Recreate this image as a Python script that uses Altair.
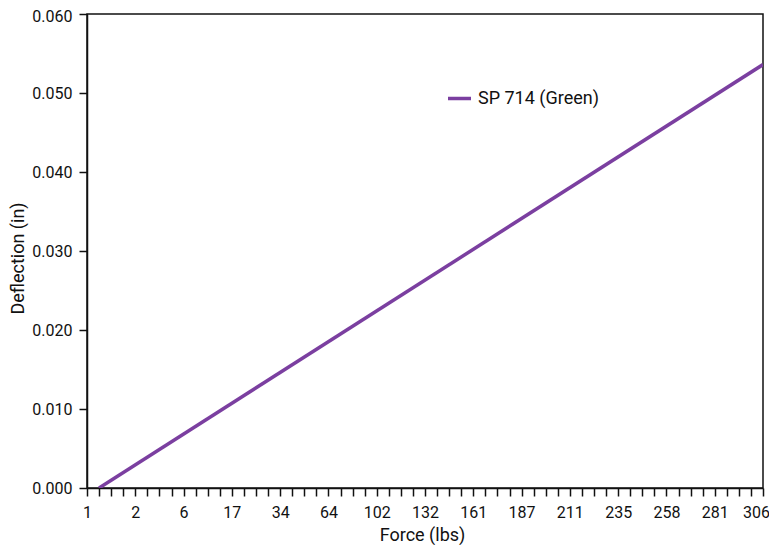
import altair as alt
import pandas as pd

# x positions are tick indices (0..56); labelled every 4th index
x_labels = ["1", "2", "6", "17", "34", "64", "102", "132", "161", "187",
            "211", "235", "258", "281", "306"]
x_index = [1, 56]
deflection = [0.0, 0.0536]
series = ["SP 714 (Green)", "SP 714 (Green)"]

df = pd.DataFrame({"idx": x_index, "defl": deflection, "series": series})

FONT = "Roboto"
label_arr = "[" + ",".join("'" + s + "'" for s in x_labels) + "]"
label_expr = "datum.value % 4 == 0 ? " + label_arr + "[datum.value / 4] : ''"

chart = alt.Chart(df).mark_line(strokeWidth=3.5, clip=True).encode(
    x=alt.X("idx:Q",
            scale=alt.Scale(domain=[0, 56], nice=False, zero=False),
            axis=alt.Axis(values=list(range(0, 57)),
                          labelExpr=label_expr,
                          labelOffset={"condition": {"test": "datum.value == 56", "value": -7},
                                       "value": 0},
                          title="Force (lbs)", grid=False, tickSize=8,
                          labelPadding=8, titlePadding=6, titleX=335,
                          labelOverlap=False, labelFlush=False)),
    y=alt.Y("defl:Q",
            scale=alt.Scale(domain=[0, 0.06], nice=False),
            axis=alt.Axis(values=[0, 0.01, 0.02, 0.03, 0.04, 0.05, 0.06],
                          format=".3f", title="Deflection (in)", grid=False,
                          labelOffset={"condition": {"test": "datum.value > 0.059", "value": 2},
                                       "value": 0},
                          tickSize=8, labelPadding=7, titlePadding=4,
                          titleY=244)),
    color=alt.Color("series:N",
                    scale=alt.Scale(range=["#7b3fa0"]),
                    legend=alt.Legend(title=None, orient="none", legendX=359,
                                      legendY=71, symbolType="stroke",
                                      symbolStrokeWidth=3.5, symbolSize=530,
                                      labelFontSize=18, labelFont=FONT,
                                      labelColor="#111", labelOffset=5)),
).properties(
    width=676, height=474,
    autosize=alt.AutoSizeParams(type="none"),
    padding={"left": 79, "top": 6, "right": 6, "bottom": 57},
).configure_view(
    stroke="#111", strokeWidth=1.5
).configure_axis(
    labelFont=FONT, titleFont=FONT, labelFontSize=16, titleFontSize=18,
    titleFontWeight="normal", labelColor="#111", titleColor="#111",
    domainColor="#111", tickColor="#111", domainWidth=1.5, tickWidth=1.5,
)

chart.save("out.html", embed_options={"renderer": "svg", "actions": False})
